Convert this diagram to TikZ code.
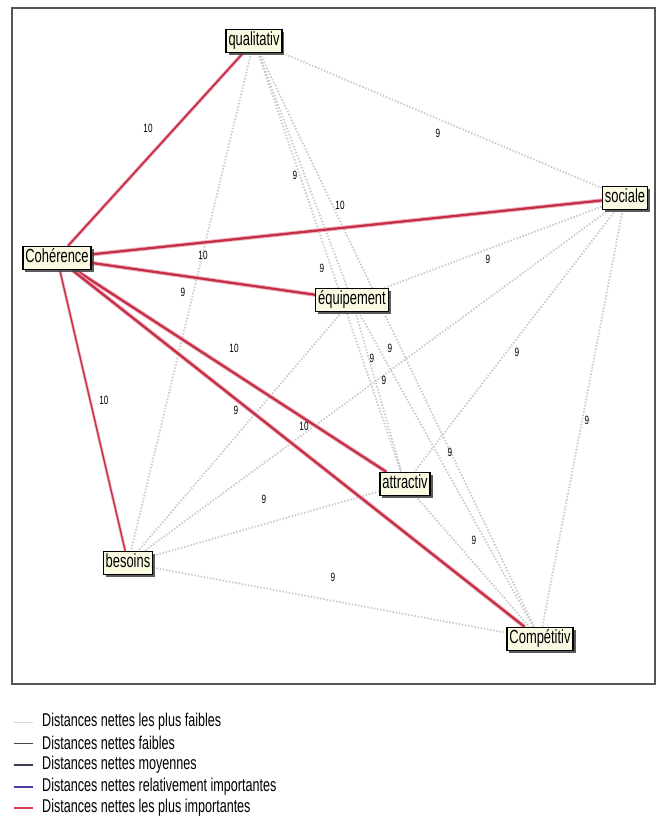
\documentclass[tikz,border=0pt]{standalone}
\usepackage{fontspec}
\setmainfont{Liberation Sans}[FakeStretch=0.68]
\usetikzlibrary{shadows}
\pgfdeclarelayer{background}
\pgfsetlayers{background,main}
\definecolor{cream}{RGB}{250,250,226}
\definecolor{redcore}{RGB}{196,48,72}
\definecolor{redhalo}{RGB}{243,180,192}
\definecolor{dotgray}{RGB}{200,200,200}
\definecolor{framegray}{RGB}{85,85,85}
\definecolor{legA}{RGB}{215,215,215}
\definecolor{legB}{RGB}{70,70,70}
\definecolor{legC}{RGB}{60,62,84}
\definecolor{legD}{RGB}{72,62,165}
\definecolor{legE}{RGB}{210,62,82}
\begin{document}
\begin{tikzpicture}[x=1pt,y=-1pt,
  var/.style={draw=black, line width=1.3pt, fill=cream,
    font=\fontsize{19}{19}\selectfont, inner xsep=2.5pt, inner ysep=2.8pt,
    text height=13.5pt, text depth=4pt,
    drop shadow={shadow xshift=2.5pt, shadow yshift=-2.5pt, fill=black!75, opacity=0.85}},
  wlabel/.style={font=\fontsize{12}{12}\selectfont, inner sep=0.5pt},
  dotedge/.style={draw=dotgray, line width=1.8pt, dash pattern=on 1.4pt off 1.8pt},
  halo/.style={draw=redhalo, line width=#1},
  core/.style={draw=redcore, line width=#1},
  legtext/.style={anchor=west, font=\fontsize{18.5}{18.5}\selectfont, inner sep=0pt}
]
\useasboundingbox (0,0) rectangle (657,836);

% nodes
\node[var] (qual) at (254,41) {qualitativ};
\node[var] (coh)  at (57,258) {Cohérence};
\node[var] (soc)  at (625,198) {sociale};
\node[var] (equ)  at (352,300) {équipement};
\node[var] (att)  at (405,484) {attractiv};
\node[var] (bes)  at (128,563) {besoins};
\node[var] (comp) at (540,639) {Compétitiv};

\begin{pgfonlayer}{background}
\fill[white] (0,0) rectangle (657,836);
\draw[framegray, line width=1.6pt] (12,8) rectangle (655,684);
% weakest links (dotted)
\foreach \a/\b in {qual/soc,qual/equ,qual/att,qual/bes,qual/comp,
                   soc/equ,soc/att,soc/bes,soc/comp,
                   equ/att,equ/bes,equ/comp,
                   att/bes,att/comp,bes/comp}
  \draw[dotedge] (\a) -- (\b);
% strongest links (red)
\foreach \b/\w/\c in {qual/3.6pt/1.8pt, soc/4.2pt/2.3pt, equ/4.2pt/2.3pt,
                      att/4.2pt/2.3pt, comp/4.2pt/2.3pt, bes/3pt/1.4pt}
  {\draw[halo=\w] (coh) -- (\b);
   \draw[core=\c] (coh) -- (\b);}
\end{pgfonlayer}

% link values
\node[wlabel] (l1)  at (148,128) {10};
\node[wlabel] (l2)  at (340,205) {10};
\node[wlabel] (l3)  at (203,255) {10};
\node[wlabel] (l4)  at (234,348) {10};
\node[wlabel] (l5)  at (104,400) {10};
\node[wlabel] (l6)  at (304,426) {10};
\node[wlabel] (l7)  at (438,133) {9};
\node[wlabel] (l8)  at (295,175) {9};
\node[wlabel] (l9)  at (322,268) {9};
\node[wlabel] (l10) at (183,292) {9};
\node[wlabel] (l11) at (488,259) {9};
\node[wlabel] (l12) at (372,358) {9};
\node[wlabel] (l13) at (390,348) {9};
\node[wlabel] (l14) at (384,380) {9};
\node[wlabel] (l15) at (517,352) {9};
\node[wlabel] (l16) at (236,410) {9};
\node[wlabel] (l17) at (587,420) {9};
\node[wlabel] (l18) at (450,452) {9};
\node[wlabel] (l19) at (264,499) {9};
\node[wlabel] (l20) at (474,540) {9};
\node[wlabel] (l21) at (333,577) {9};

% legend
\coordinate (a1) at (14,722); \coordinate (b1) at (33,722);
\coordinate (a2) at (14,743); \coordinate (b2) at (33,743);
\coordinate (a3) at (14,765); \coordinate (b3) at (33,765);
\coordinate (a4) at (14,787); \coordinate (b4) at (33,787);
\coordinate (a5) at (14,808); \coordinate (b5) at (33,808);
\draw[legA, line width=1pt] (a1) -- (b1);
\draw[legB, line width=1pt] (a2) -- (b2);
\draw[legC, line width=1.4pt] (a3) -- (b3);
\draw[legD, line width=2.6pt] (a4) -- (b4);
\draw[legE, line width=2.6pt] (a5) -- (b5);
\node[legtext] (t1) at (42,722) {Distances nettes les plus faibles};
\node[legtext] (t2) at (42,743) {Distances nettes faibles};
\node[legtext] (t3) at (42,765) {Distances nettes moyennes};
\node[legtext] (t4) at (42,787) {Distances nettes relativement importantes};
\node[legtext] (t5) at (42,808) {Distances nettes les plus importantes};
\end{tikzpicture}
\end{document}
